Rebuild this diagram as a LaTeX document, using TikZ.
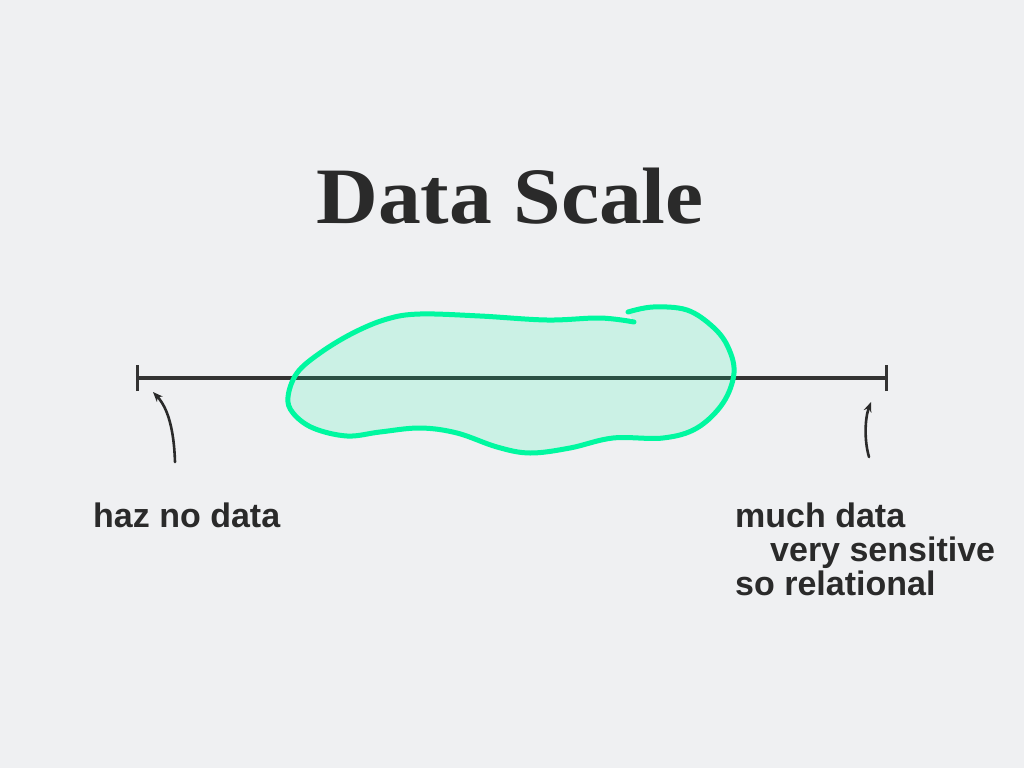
\documentclass[tikz,border=0pt]{standalone}
\usepackage{fontspec}
\setmainfont{Liberation Sans}
\newfontfamily\titlefont{Liberation Serif}
\usetikzlibrary{arrows.meta}
\definecolor{bg}{RGB}{239,240,242}
\definecolor{ink}{RGB}{42,42,42}
\definecolor{axisc}{RGB}{51,51,51}
\definecolor{mint}{RGB}{0,248,160}
\tikzset{
  label/.style={inner sep=0pt, anchor=base west, text=ink, font=\bfseries\fontsize{34}{34}\selectfont},
  pointer/.style={ink, line width=2.6pt, line cap=round, -{Stealth[length=10pt,width=8pt]}},
}
\begin{document}
\begin{tikzpicture}[x=1pt,y=-1pt]
\fill[bg] (0,0) rectangle (1024,768);
\useasboundingbox (0,0) rectangle (1024,768);
% title
\node[inner sep=0pt, anchor=base, text=ink, font=\titlefont\bfseries\fontsize{80}{80}\selectfont, xscale=1.07] (title) at (510,223) {Data Scale};
% axis
\coordinate (L) at (137,378);
\coordinate (R) at (886,378);
\draw[axisc, line width=4pt] (L) -- (R);
\draw[axisc, line width=3pt] ([yshift=-13pt]L) -- ([yshift=13pt]L);
\draw[axisc, line width=3pt] ([yshift=-13pt]R) -- ([yshift=13pt]R);
% blob
\def\blobpts{(634,322) (600,318) (547,320) (480,316) (420,314) (387,319) (353,333) (320,353) (297,373) (288,397) (293,413) (313,428) (347,436) (380,432) (420,428) (457,433) (497,447) (530,453) (570,448) (613,438) (663,438) (697,428) (723,403) (734,373) (728,347) (713,327) (687,310) (653,307) (628,312)}
\fill[mint, fill opacity=0.15] plot[smooth, tension=0.6] coordinates {\blobpts};
\draw[mint, line width=5pt, line cap=round, line join=round] plot[smooth, tension=0.6] coordinates {\blobpts};
% pointers
\coordinate (la) at (175,462);
\coordinate (lb) at (153,392);
\coordinate (ra) at (869,457);
\coordinate (rb) at (871,402);
\draw[pointer] (la) .. controls (174,430) and (168,408) .. (lb);
\draw[pointer] (ra) .. controls (864,440) and (865,418) .. (rb);
% labels
\node[label] (left) at (93,527) {haz no data};
\node[label] (r1) at (735,527) {much data};
\node[label] (r2) at (770,561) {very sensitive};
\node[label] (r3) at (735,595) {so relational};
\end{tikzpicture}
\end{document}
